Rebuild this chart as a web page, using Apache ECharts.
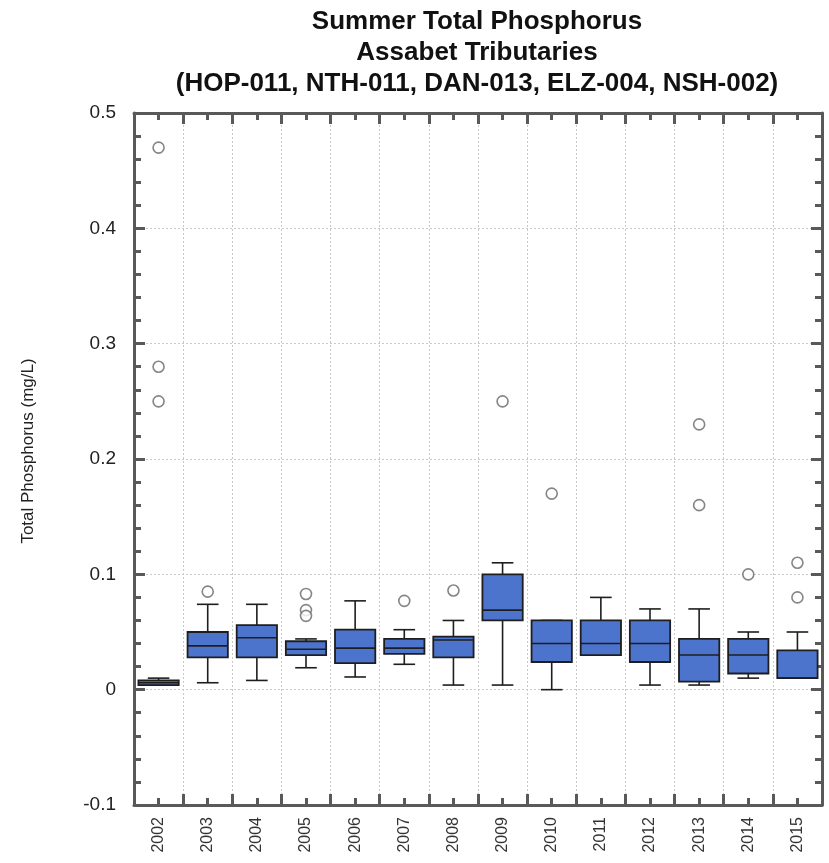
<!DOCTYPE html>
<html><head><meta charset="utf-8">
<script src="https://cdn.jsdelivr.net/npm/echarts@6/dist/echarts.min.js"></script>
<style>html,body{margin:0;padding:0;background:#fff}#c{width:829px;height:863px}</style>
</head><body><div id="c"></div>
<script>
const titleLines = ['Summer Total Phosphorus', 'Assabet Tributaries', '(HOP-011, NTH-011, DAN-013, ELZ-004, NSH-002)'];
const yAxisTitle = 'Total Phosphorus (mg/L)';
const years = ['2002','2003','2004','2005','2006','2007','2008','2009','2010','2011','2012','2013','2014','2015'];
const whiskerLow  = [0.004, 0.006, 0.008, 0.019, 0.011, 0.022, 0.004, 0.004, 0.000, 0.030, 0.004, 0.004, 0.010, 0.010];
const q1          = [0.004, 0.028, 0.028, 0.030, 0.023, 0.031, 0.028, 0.060, 0.024, 0.030, 0.024, 0.007, 0.014, 0.010];
const median      = [0.006, 0.038, 0.045, 0.035, 0.036, 0.036, 0.043, 0.069, 0.040, 0.040, 0.040, 0.030, 0.030, 0.010];
const q3          = [0.008, 0.050, 0.056, 0.042, 0.052, 0.044, 0.046, 0.100, 0.060, 0.060, 0.060, 0.044, 0.044, 0.034];
const whiskerHigh = [0.010, 0.074, 0.074, 0.044, 0.077, 0.052, 0.060, 0.110, 0.060, 0.080, 0.070, 0.070, 0.050, 0.050];
const outlierYears  = ['2002','2002','2002','2003','2005','2005','2005','2007','2008','2009','2010','2013','2013','2014','2015','2015'];
const outlierValues = [0.47, 0.28, 0.25, 0.085, 0.083, 0.069, 0.064, 0.077, 0.086, 0.25, 0.17, 0.23, 0.16, 0.10, 0.11, 0.08];
const yMin = -0.1, yMax = 0.5, yStep = 0.1;

const chart = echarts.init(document.getElementById('c'), null, {renderer: 'canvas'});
const boxData = years.map((y, i) => [i, whiskerLow[i], q1[i], median[i], q3[i], whiskerHigh[i]]);
const outData = outlierYears.map((y, i) => [y, outlierValues[i]]);

const AX = '#595959';
const GRID = '#c9c9c9';
const FONT = 'Liberation Sans, Arial, sans-serif';

function xAxisDef(pos, major, labels) {
  return {
    type: 'category', data: years, position: pos, boundaryGap: true,
    axisLine: {show: major, onZero: false, lineStyle: {color: AX, width: 3}},
    axisTick: {show: true, inside: true, alignWithLabel: !major, length: major ? 11 : 7, lineStyle: {color: AX, width: 3}},
    axisLabel: labels ? {show: true, rotate: 90, margin: 12, fontSize: 16, color: '#333', fontFamily: FONT} : {show: false},
    splitLine: {show: labels, lineStyle: {color: GRID, type: [2, 2], width: 1}}
  };
}
function yAxisDef(pos, labels) {
  return {
    type: 'value', position: pos, min: yMin, max: yMax, interval: yStep,
    axisLine: {show: true, onZero: false, lineStyle: {color: AX, width: 3}},
    axisTick: {show: true, inside: true, length: 11, lineStyle: {color: AX, width: 3}},
    minorTick: {show: true, splitNumber: 5, length: 7, lineStyle: {color: AX, width: 3}},
    axisLabel: labels ? {show: true, margin: 18, fontSize: 19, color: '#222', fontFamily: FONT,
      formatter: v => String(+v.toFixed(1))} : {show: false},
    splitLine: {show: labels, lineStyle: {color: GRID, type: [2, 2], width: 1}}
  };
}

chart.setOption({
  animation: false,
  backgroundColor: '#fff',
  title: {
    text: titleLines.join('\n'), left: 472, top: 1, textAlign: 'center',
    textStyle: {fontSize: 26, fontWeight: 'bold', color: '#111', fontFamily: FONT, lineHeight: 31}
  },
  graphic: [{
    type: 'text', x: 28, y: 451, rotation: Math.PI / 2,
    style: {text: yAxisTitle, fontSize: 17, fill: '#222', fontFamily: FONT, align: 'center', verticalAlign: 'middle'}
  }],
  grid: {left: 134, right: 7, top: 113, bottom: 58, containLabel: false},
  xAxis: [xAxisDef('bottom', true, true), xAxisDef('bottom', false, false), xAxisDef('top', true, false), xAxisDef('top', false, false)],
  yAxis: [yAxisDef('left', true), yAxisDef('right', false)],
  series: [{
    type: 'custom', xAxisIndex: 0, yAxisIndex: 0, data: boxData,
    encode: {x: 0, y: [1, 2, 3, 4, 5]},
    renderItem: function (params, api) {
      const i = api.value(0);
      const lo = api.coord([i, api.value(1)]);
      const b1 = api.coord([i, api.value(2)]);
      const md = api.coord([i, api.value(3)]);
      const b3 = api.coord([i, api.value(4)]);
      const hi = api.coord([i, api.value(5)]);
      const cat = api.size([1, 0])[0];
      const bw = cat * 0.82, cw = cat * 0.44;
      const x = lo[0];
      const ls = {stroke: '#1e1e1e', lineWidth: 1.6};
      return {type: 'group', children: [
        {type: 'line', shape: {x1: x, y1: hi[1], x2: x, y2: b3[1]}, style: ls},
        {type: 'line', shape: {x1: x, y1: b1[1], x2: x, y2: lo[1]}, style: ls},
        {type: 'line', shape: {x1: x - cw / 2, y1: hi[1], x2: x + cw / 2, y2: hi[1]}, style: ls},
        {type: 'line', shape: {x1: x - cw / 2, y1: lo[1], x2: x + cw / 2, y2: lo[1]}, style: ls},
        {type: 'rect', shape: {x: x - bw / 2, y: b3[1], width: bw, height: b1[1] - b3[1]}, style: {fill: '#4d74cc', stroke: '#1e1e1e', lineWidth: 1.8}},
        {type: 'line', shape: {x1: x - bw / 2, y1: md[1], x2: x + bw / 2, y2: md[1]}, style: ls}
      ]};
    }
  }, {
    type: 'scatter', xAxisIndex: 0, yAxisIndex: 0, data: outData,
    symbol: 'circle', symbolSize: 11,
    itemStyle: {color: '#fff', borderColor: '#666', borderWidth: 1.6}
  }]
});
</script></body></html>
